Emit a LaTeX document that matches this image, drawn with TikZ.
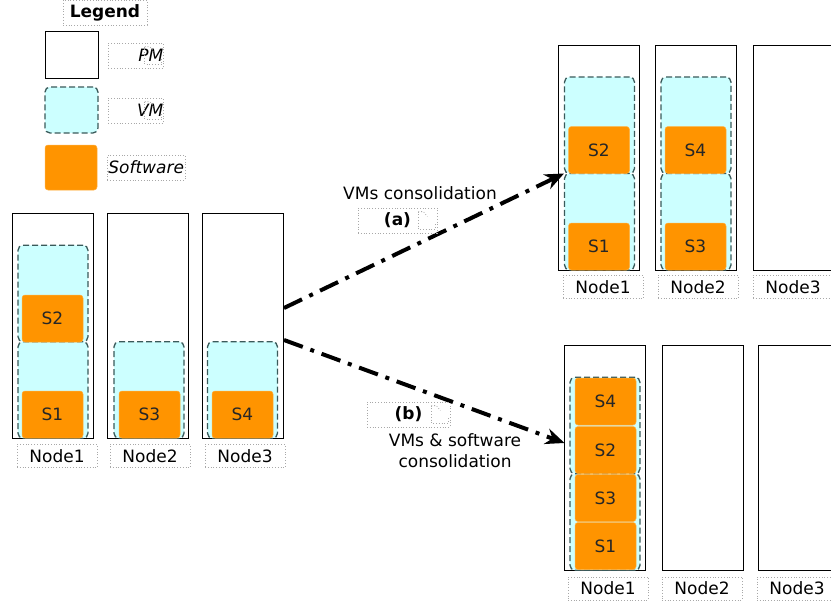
\documentclass[tikz,border=0pt]{standalone}
\usepackage{fontspec}
\setmainfont{DejaVu Sans}
\usetikzlibrary{arrows.meta}
\definecolor{vmfill}{HTML}{CCFFFF}
\definecolor{vmline}{HTML}{3A5A5A}
\definecolor{swfill}{HTML}{FF9400}
\definecolor{swedge}{HTML}{FFB040}
\definecolor{frm}{HTML}{A8A8A8}
\newcommand\cmark[1]{%
  \draw[framepath] ([xshift=-19pt,yshift=-4pt]#1.north east) -- ([xshift=-19pt,yshift=4pt]#1.south east) -- ([xshift=-2pt,yshift=4pt]#1.south east) -- ([xshift=-2pt,yshift=9pt]#1.south east);
  \draw[framepath] ([xshift=-19pt,yshift=-4pt]#1.north east) -- ([xshift=-14pt,yshift=-4pt]#1.north east) -- ([xshift=-10pt,yshift=-9pt]#1.north east);}
\tikzset{
  pm/.style={draw=black, line width=1pt, fill=white, minimum width=81pt, minimum height=225pt, inner sep=0pt},
  vm/.style={draw=vmline, fill=vmfill, dash pattern=on 6pt off 3pt, line width=1.3pt, rounded corners=5pt, minimum width=70pt, minimum height=96.5pt, inner sep=0pt},
  sw/.style={fill=swfill, draw=swedge, line width=0.5pt, rounded corners=3pt, minimum width=61pt, minimum height=47pt, inner sep=0pt, font=\fontsize{17}{20}\selectfont, text=black!85},
  framebox/.style={draw=frm, dotted, line width=0.8pt, inner sep=0pt, font=\fontsize{17}{20}\selectfont},
  framepath/.style={draw=frm, dotted, line width=0.8pt},
  nlbl/.style={framebox, minimum width=80pt, minimum height=23pt},
  plain/.style={inner sep=0pt, font=\fontsize{17}{20}\selectfont},
  flow/.style={line width=4pt, dash pattern=on 20pt off 8pt on 4pt off 8pt, -{Stealth[length=19pt,width=16pt]}},
}
\begin{document}
\begin{tikzpicture}[x=1pt,y=-1pt]
\clip (0,0) rectangle (831,605);
\fill[white] (0,0) rectangle (831,605);

% ---------- Legend ----------
\node[framebox, minimum width=84pt, minimum height=25pt, font=\fontsize{17}{20}\selectfont\bfseries] (legend) at (105,12.5) {Legend};
\node[draw=black, line width=1pt, minimum width=53pt, minimum height=47pt, inner sep=0pt] (kpm) at (71.5,54.5) {};
\node[vm, minimum width=53pt, minimum height=46pt] (kvm) at (71.5,110) {};
\node[sw, minimum width=52pt, minimum height=45pt] (ksw) at (71,167.5) {};
\node[framebox, anchor=west, minimum height=25pt] (kpmt) at (108,55.5) {\makebox[55pt][r]{\itshape PM}\hspace{29pt}};
\node[framebox, anchor=west, minimum height=25pt] (kvmt) at (108,110.5) {\makebox[55pt][r]{\itshape VM}\hspace{29pt}};
\node[framebox, anchor=west, minimum height=25pt, inner xsep=1pt] (kswt) at (107,167.5) {\itshape Software};
\cmark{kpmt}
\cmark{kvmt}

% ---------- Left: initial state ----------
\node[pm] (L1) at (52.5,325.5) {};
\node[pm] (L2) at (148,325.5) {};
\node[pm] (L3) at (243,325.5) {};
\node[vm] (L1va) at (53,293.5) {};
\node[vm] (L1vb) at (53,390) {};
\node[vm] (L2v) at (149,390) {};
\node[vm] (L3v) at (242.5,390) {};
\node[sw] (Ls2) at (52.5,318.5) {S2};
\node[sw] (Ls1) at (52.5,414.5) {S1};
\node[sw] (Ls3) at (149.5,414.5) {S3};
\node[sw] (Ls4) at (242.5,414.5) {S4};
\node[nlbl] (L1t) at (57,456) {Node1};
\node[nlbl] (L2t) at (150,456) {Node2};
\node[nlbl] (L3t) at (245,456) {Node3};

% ---------- Right top: (a) ----------
\node[pm] (R1) at (599,157.5) {};
\node[pm] (R2) at (695.5,157.5) {};
\node[pm] (R3) at (793.5,157.5) {};
\node[vm] (R1va) at (599.5,125.25) {};
\node[vm] (R1vb) at (599.5,221.75) {};
\node[vm] (R2va) at (696,125.25) {};
\node[vm] (R2vb) at (696,221.75) {};
\node[sw] (Rs2) at (599,150) {S2};
\node[sw] (Rs1) at (599,246.5) {S1};
\node[sw] (Rs4) at (695.5,150) {S4};
\node[sw] (Rs3) at (695.5,246.5) {S3};
\node[nlbl] (R1t) at (603,287) {Node1};
\node[nlbl] (R2t) at (698,287) {Node2};
\node[nlbl] (R3t) at (793,287) {Node3};

% ---------- Right bottom: (b) ----------
\node[pm] (B1) at (604.5,457.5) {};
\node[pm] (B2) at (702.5,457.5) {};
\node[pm] (B3) at (798.5,457.5) {};
\node[vm] (B1va) at (605,425.5) {};
\node[vm] (B1vb) at (605,522) {};
\node[sw] (Bs4) at (605.5,401.5) {S4};
\node[sw] (Bs2) at (605.5,450) {S2};
\node[sw] (Bs3) at (605.5,498) {S3};
\node[sw] (Bs1) at (605.5,546) {S1};
\node[nlbl] (B1t) at (608,588.5) {Node1};
\node[nlbl] (B2t) at (702,588.5) {Node2};
\node[nlbl] (B3t) at (797,588.5) {Node3};

% ---------- Arrows and their labels ----------
\draw[flow] ([yshift=17.5pt]L3.east) -- ([xshift=6pt,yshift=-16pt]R1.west);
\draw[flow] ([yshift=-14.5pt]L3.east) -- ([xshift=1pt,yshift=14.5pt]B1.west);
\node[plain] (ta) at (420,193) {VMs consolidation};
\node[framebox, minimum width=79pt, minimum height=25pt, font=\fontsize{17}{20}\selectfont\bfseries] (la) at (397.5,220.5) {(a)};
\node[framebox, minimum width=83pt, minimum height=25pt, font=\fontsize{17}{20}\selectfont\bfseries] (lb) at (408.5,414.5) {(b)};
\cmark{la}
\cmark{lb}
\node[plain, align=center, font=\fontsize{17}{21}\selectfont] (tb) at (455,451) {VMs \& software\\consolidation};
\end{tikzpicture}
\end{document}
